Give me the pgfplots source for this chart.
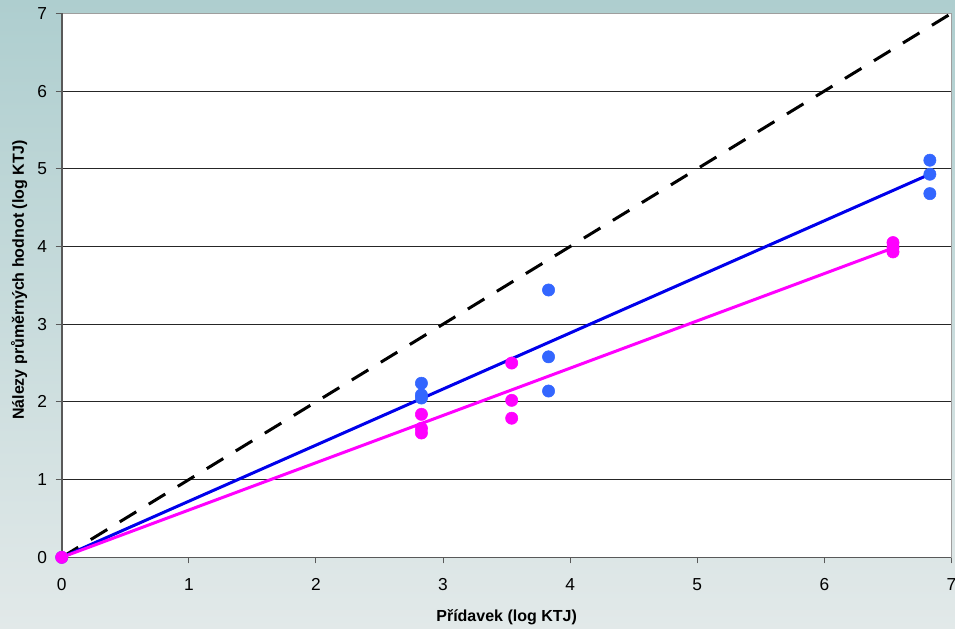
\documentclass[border=0pt]{standalone}
\usepackage{pgfplots}
\pgfplotsset{compat=1.18}
\usepackage{fontspec}
\setmainfont{Liberation Sans}
\definecolor{bgtop}{RGB}{174,206,207}
\definecolor{bgbot}{RGB}{226,233,233}
\definecolor{ptblue}{RGB}{51,102,255}
\definecolor{lnblue}{RGB}{0,0,235}
\definecolor{mag}{RGB}{255,0,255}
\begin{document}
\begin{tikzpicture}
\shade[top color=bgtop, bottom color=bgbot] (-46.3pt,-53pt) rectangle (669.95pt,418pt);
\begin{axis}[name=ax, at={(0,0)}, anchor=south west, scale only axis,
  width=667.3pt, height=408pt,
  xmin=0, xmax=7, ymin=0, ymax=7,
  xtick={0,...,7}, ytick={0,...,7},
  tick align=outside, xtick pos=left, ytick pos=left,
  major tick length=4.5pt,
  tick style={black!65, line width=0.75pt},
  ymajorgrids, grid style={black!85, line width=0.8pt},
  axis line style={draw=black!38, line width=1.2pt},
  axis background/.style={fill=white},
  ticklabel style={font=\fontsize{13}{15}\selectfont, text=black},
  /pgf/number format/assume math mode=true,
  yticklabel style={xshift=-3pt},
  xticklabel style={yshift=-7.7pt},
  clip=false,
]
\draw[black!65, line width=1.2pt] (rel axis cs:0,1) -- (rel axis cs:0,0) -- (rel axis cs:1,0);
\addplot[black, line width=2.25pt, dash pattern=on 14.5pt off 11pt] coordinates {(0,0) (7,7)};
\addplot[lnblue, line width=2.25pt] coordinates {(0,0) (6.83,4.93)};
\addplot[mag, line width=2.25pt] coordinates {(0,0) (6.54,3.98)};
\addplot[only marks, mark=*, mark size=4.6pt, mark options={draw=ptblue, fill=ptblue}] coordinates {
  (0,0) (2.83,2.24) (2.83,2.09) (2.83,2.05)
  (3.83,3.44) (3.83,2.58) (3.83,2.14)
  (6.83,5.11) (6.83,4.93) (6.83,4.68)};
\addplot[only marks, mark=*, mark size=4.6pt, mark options={draw=mag, fill=mag}] coordinates {
  (0,0) (2.83,1.84) (2.83,1.66) (2.83,1.60)
  (3.54,2.50) (3.54,2.02) (3.54,1.79)
  (6.54,4.05) (6.54,3.99) (6.54,3.93)};
\end{axis}
\node[anchor=base, font=\bfseries\fontsize{12}{14}\selectfont] at ([yshift=-47.8pt]ax.south) {Přídavek (log KTJ)};
\node[rotate=90, anchor=base, font=\bfseries\fontsize{12}{14}\selectfont] at ([xshift=-28.3pt, yshift=4.1pt]ax.west) {Nálezy průměrných hodnot (log KTJ)};
\pgfresetboundingbox
\path[use as bounding box] (-46.3pt,-53pt) rectangle (669.95pt,418pt);
\end{tikzpicture}
\end{document}
